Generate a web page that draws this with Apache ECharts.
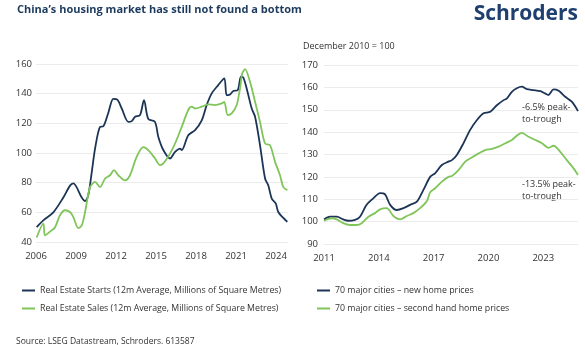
<!DOCTYPE html>
<html>
<head>
<meta charset="utf-8">
<script src="https://cdn.jsdelivr.net/npm/echarts@6/dist/echarts.min.js"></script>
<style>
html,body{margin:0;padding:0;background:#fff;}
#c{width:585px;height:345px;}
</style>
</head>
<body>
<div id="c"></div>
<script>
// ---- Left chart: real estate starts & sales (12m avg, mn sq m) ----
const startsYears = [2006.05,2006.55,2007.3,2008.05,2008.55,2008.8,2009.43,2009.68,2009.92,2010.18,2010.43,2010.8,2011.05,2011.42,2011.8,2012.1,2012.43,2012.92,2013.18,2013.43,2013.8,2014.1,2014.42,2014.92,2015.17,2015.55,2016.05,2016.43,2016.8,2016.93,2017.42,2017.93,2018.43,2018.8,2019.18,2019.67,2020.12,2020.3,2020.55,2020.8,2021.13,2021.37,2021.55,2021.8,2022.18,2022.43,2022.8,2023.18,2023.42,2023.68,2023.98,2024.17,2024.55,2024.85];
const startsValues = [50,54.6,60,70,78,79.5,70,67.6,71.5,87,103,117.6,118,127,136.5,136,130,121,121.5,124.4,125.5,135.7,123,121,111,102,96.3,100.7,103,102,112,115.4,122,132.3,140.2,145.8,150.3,139,139.5,141.8,142.4,151.4,150.8,143.5,130,124.4,105.3,82.8,78.2,69.3,66,60.2,56.2,53.5];
const salesYears = [2006.05,2006.55,2006.67,2007.05,2007.43,2007.8,2008.18,2008.55,2008.8,2009.17,2009.43,2009.68,2010.05,2010.43,2010.8,2011.18,2011.55,2011.85,2012.17,2012.68,2013.05,2013.55,2014.05,2014.42,2014.93,2015.3,2015.55,2016.05,2016.43,2016.93,2017.42,2017.68,2017.93,2018.43,2018.93,2019.43,2019.93,2020.12,2020.38,2020.68,2021.05,2021.3,2021.47,2021.68,2022.05,2022.43,2022.8,2023.18,2023.55,2023.93,2024.3,2024.55,2024.85];
const salesValues = [43,52.4,44.5,47,50,58,61.4,60.2,56.8,49.4,51.2,60.2,77,80.5,77,82.8,85,88.4,85,81.6,85,97.4,104,102,96.3,91.8,93,99.6,106.4,117.6,129,131.2,130,131.2,132.8,132.3,133.4,134.5,125.5,126.7,132.3,143.5,153.7,156.6,148,134.5,121,106.4,105.3,94,85,77,75];
const leftYTicks = [40,60,80,100,120,140,160];
const leftXTickYears = [2006,2009,2012,2015,2018,2021,2024];

// ---- Right chart: 70 major cities home prices (Dec 2010 = 100) ----
const newYears = [2011.0,2011.33,2011.7,2012.05,2012.33,2012.7,2012.97,2013.33,2013.7,2014.07,2014.34,2014.62,2014.98,2015.35,2015.71,2016.08,2016.44,2016.81,2017.08,2017.45,2017.81,2018.0,2018.27,2018.63,2019.0,2019.37,2019.73,2020.1,2020.46,2020.83,2021.0,2021.28,2021.55,2021.83,2022.1,2022.47,2022.84,2023.1,2023.28,2023.56,2023.84,2024.2,2024.56,2024.9];
const newValues = [101,102.2,102.2,101,100.4,100.8,102.2,107.5,110.4,112.7,112.2,107.5,105.2,106,107.5,108.9,114.2,120,121.6,125.3,126.8,127.5,129.8,135,141,145.4,148.4,149.1,152,154.3,155,158,159.6,160.3,159.2,158.8,158.3,157.3,156.6,159.1,158.5,155.8,153.6,149.4];
const secondYears = [2011.0,2011.42,2011.7,2012.05,2012.42,2012.79,2013.06,2013.43,2013.79,2014.07,2014.43,2014.8,2015.16,2015.53,2015.89,2016.26,2016.63,2016.81,2017.08,2017.45,2017.81,2018.0,2018.36,2018.73,2019.09,2019.46,2019.82,2020.19,2020.55,2020.92,2021.28,2021.55,2021.83,2022.19,2022.56,2022.93,2023.29,2023.56,2023.93,2024.29,2024.66,2024.9];
const secondValues = [100.4,101.5,101,99.3,98.5,98.5,99.3,102.2,103.8,105.5,106,102.5,101,102.5,103.8,106,109.2,113.1,114.9,117.9,120,120.4,123,126.8,128.7,130.5,132,132.5,133.5,135,136.5,138.4,139.7,137.9,136.5,135,133,133.9,131.2,127.5,123.8,120.8];
const rightYTicks = [90,100,110,120,130,140,150,160,170];
const rightXTickYears = [2011,2014,2017,2020,2023];

const seriesNames = [
  'Real Estate Starts (12m Average, Millions of Square Metres)',
  'Real Estate Sales (12m Average, Millions of Square Metres)',
  '70 major cities \u2013 new home prices',
  '70 major cities \u2013 second hand home prices'
];

const NAVY = '#1c3557';
const GREEN = '#80c55a';
const FONT = '"Open Sans", sans-serif';
const leftBase = leftXTickYears[0];
const rightBase = rightXTickYears[0];
const pair = (xs, ys, base) => xs.map((x, i) => [x - base, ys[i]]);

const chart = echarts.init(document.getElementById('c'), null, {renderer: 'canvas'});

function xAxisCfg(gridIndex, base, maxYear) {
  return {
    type: 'value', gridIndex: gridIndex, min: 0, max: +(maxYear - base).toFixed(2), interval: 3,
    axisLine: {show: false}, axisTick: {show: false}, splitLine: {show: false},
    axisLabel: {color: '#333', fontFamily: FONT, fontSize: 9.5, margin: 9, showMaxLabel: false,
      formatter: v => String(Math.round(v + base))}
  };
}
function yAxisCfg(gridIndex, ticks, margin) {
  return {
    type: 'value', gridIndex: gridIndex, min: ticks[0], max: ticks[ticks.length - 1], interval: ticks[1] - ticks[0],
    axisLine: {show: false}, axisTick: {show: false},
    splitLine: {show: true, lineStyle: {color: '#ebebeb', width: 1}},
    axisLabel: {color: '#333', fontFamily: FONT, fontSize: 9.5, margin: margin}
  };
}
function lineSeries(name, data, color, idx) {
  return {
    name: name, type: 'line', data: data, xAxisIndex: idx, yAxisIndex: idx,
    showSymbol: false, smooth: 0.3, lineStyle: {color: color, width: 1.8}, itemStyle: {color: color},
    animation: false
  };
}

chart.setOption({
  backgroundColor: '#fff',
  animation: false,
  textStyle: {fontFamily: FONT},
  grid: [
    {left: 36, top: 64, width: 252, height: 178},
    {left: 324, top: 65, width: 254, height: 179}
  ],
  xAxis: [xAxisCfg(0, leftBase, 2024.9), xAxisCfg(1, rightBase, 2024.9)],
  yAxis: [yAxisCfg(0, leftYTicks, 4), yAxisCfg(1, rightYTicks, 6)],
  legend: [
    {left: 17, top: 279, orient: 'vertical', icon: 'rect', itemWidth: 13, itemHeight: 2, itemGap: 5,
      data: [seriesNames[0], seriesNames[1]],
      textStyle: {color: '#333', fontFamily: FONT, fontSize: 8.8, lineHeight: 13}},
    {left: 312, top: 279, orient: 'vertical', icon: 'rect', itemWidth: 13, itemHeight: 2, itemGap: 5,
      data: [seriesNames[2], seriesNames[3]],
      textStyle: {color: '#333', fontFamily: FONT, fontSize: 8.8, lineHeight: 13}}
  ],
  series: [
    lineSeries(seriesNames[0], pair(startsYears, startsValues, leftBase), NAVY, 0),
    lineSeries(seriesNames[1], pair(salesYears, salesValues, leftBase), GREEN, 0),
    lineSeries(seriesNames[2], pair(newYears, newValues, rightBase), NAVY, 1),
    lineSeries(seriesNames[3], pair(secondYears, secondValues, rightBase), GREEN, 1)
  ],
  graphic: [
    {type: 'text', left: 17, top: 4, style: {text: 'China\u2019s housing market has still not found a bottom',
      fill: '#1c3a5e', font: 'bold 11px "Open Sans", sans-serif'}},
    {type: 'text', right: 7, top: 4, style: {text: 'Schroders', fill: '#1f3f6e',
      font: 'bold 21px "Open Sans", sans-serif'}},
    {type: 'text', left: 303, top: 42, style: {text: 'December 2010 = 100', fill: '#333',
      font: '9px "Open Sans", sans-serif'}},
    {type: 'text', left: 522, top: 101, style: {text: '-6.5% peak-\nto-trough', fill: '#333',
      font: '9px "Open Sans", sans-serif', lineHeight: 12}},
    {type: 'text', left: 522, top: 178, style: {text: '-13.5% peak-\nto-trough', fill: '#333',
      font: '9px "Open Sans", sans-serif', lineHeight: 12}},
    {type: 'text', left: 16, top: 337, style: {text: 'Source: LSEG Datastream, Schroders. 613587', fill: '#333',
      font: '8.5px "Open Sans", sans-serif'}}
  ]
});
</script>
</body>
</html>
